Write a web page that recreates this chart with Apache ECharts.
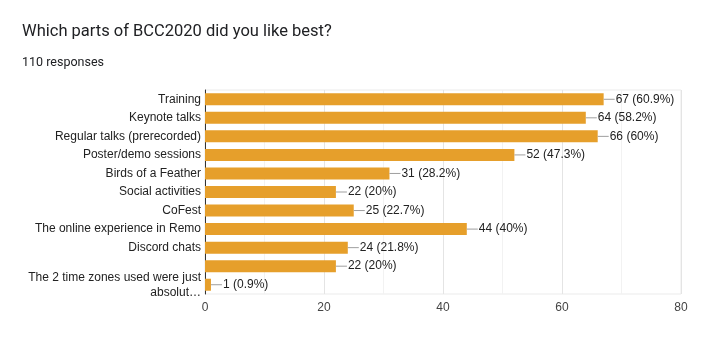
<!DOCTYPE html>
<html>
<head>
<meta charset="utf-8">
<script src="https://cdn.jsdelivr.net/npm/echarts@6/dist/echarts.min.js"></script>
<style>
  html, body { margin: 0; padding: 0; background: #fff; }
  #main { width: 709px; height: 351px; }
</style>
</head>
<body>
<div id="main"></div>
<script>
var categories = [
    'Training',
    'Keynote talks',
    'Regular talks (prerecorded)',
    'Poster/demo sessions',
    'Birds of a Feather',
    'Social activities',
    'CoFest',
    'The online experience in Remo',
    'Discord chats',
    '',
    'The 2 time zones used were just\nabsolut\u2026'
];
var counts = [67, 64, 66, 52, 31, 22, 25, 44, 24, 22, 1];
var percents = ['60.9', '58.2', '60', '47.3', '28.2', '20', '22.7', '40', '21.8', '20', '0.9'];
var totalResponses = 110;

var chart = echarts.init(document.getElementById('main'));
chart.setOption({
    animation: false,
    title: [
        {
            text: 'Which parts of BCC2020 did you like best?',
            left: 17,
            top: 18,
            textStyle: { fontFamily: 'Roboto', fontSize: 16.5, fontWeight: 'normal', color: '#202124' }
        },
        {
            text: totalResponses + ' responses',
            left: 17,
            top: 51,
            textStyle: { fontFamily: 'Roboto', fontSize: 12.5, fontWeight: 'normal', color: '#202124' }
        }
    ],
    grid: {
        left: 205,
        right: 28,
        top: 90,
        bottom: 57,
        show: true,
        borderColor: '#ebebeb',
        borderWidth: 1
    },
    xAxis: {
        type: 'value',
        min: 0,
        max: 80,
        interval: 20,
        axisLine: { show: false },
        axisTick: { show: false },
        axisLabel: { color: '#444', fontFamily: 'Liberation Sans', fontSize: 12, margin: 8 },
        splitLine: { lineStyle: { color: '#e4e4e4' } },
        minorTick: { show: false, splitNumber: 2 },
        minorSplitLine: { show: true, lineStyle: { color: '#f2f2f2' } }
    },
    yAxis: {
        type: 'category',
        inverse: true,
        data: categories,
        axisLine: { show: true, lineStyle: { color: '#333', width: 1 } },
        axisTick: { show: false },
        axisLabel: {
            color: '#222',
            fontFamily: 'Liberation Sans',
            fontSize: 12,
            margin: 4,
            lineHeight: 15,
            interval: 0
        }
    },
    series: [
        {
            type: 'bar',
            data: counts,
            barWidth: 12,
            itemStyle: { color: '#e69f2b' },
            label: {
                show: true,
                position: 'right',
                distance: 0,
                formatter: function (p) {
                    return '{l|}{v|' + p.value + ' (' + percents[p.dataIndex] + '%)}';
                },
                rich: {
                    l: { width: 11, height: 1, backgroundColor: '#9e9e9e' },
                    v: { color: '#222', fontFamily: 'Liberation Sans', fontSize: 12, padding: [0, 0, 0, 1] }
                }
            }
        }
    ]
});
</script>
</body>
</html>
